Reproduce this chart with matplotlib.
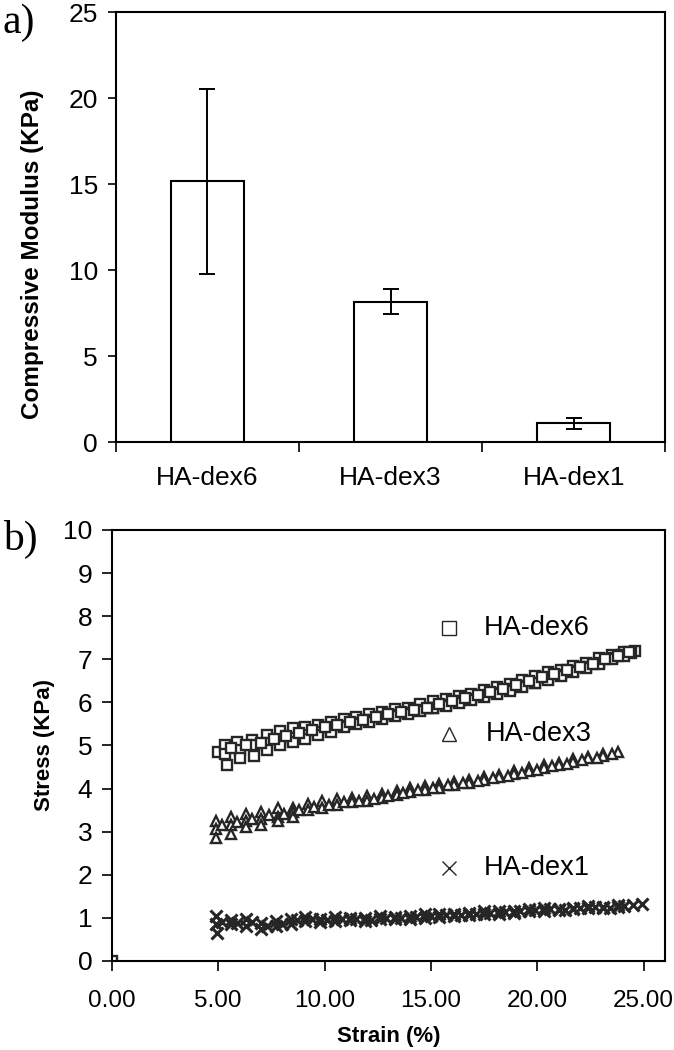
import matplotlib.pyplot as plt
import numpy as np

plt.rcParams['font.family'] = ['Liberation Sans', 'DejaVu Sans']

# ---- panel a: compressive modulus ----
groups = ['HA-dex6', 'HA-dex3', 'HA-dex1']
modulus = [15.15, 8.15, 1.08]
modulus_err = [5.37, 0.72, 0.33]

# ---- panel b: stress-strain, several replicates per gel ----
dex6_strain_a = [5.0, 5.3, 5.9, 6.6, 7.3, 7.9, 8.5, 9.1, 9.7, 10.3, 10.9, 11.5, 12.1, 12.7, 13.3, 13.9, 14.5,
                 15.1, 15.7, 16.3, 16.9, 17.5, 18.1, 18.7, 19.3, 19.9, 20.5, 21.1, 21.7, 22.3, 22.9, 23.5, 24.1, 24.6]
dex6_stress_a = [4.85, 5.02, 5.07, 5.12, 5.24, 5.33, 5.40, 5.43, 5.48, 5.55, 5.62, 5.66, 5.72, 5.77, 5.84, 5.88, 5.96,
                 6.04, 6.08, 6.14, 6.20, 6.28, 6.35, 6.42, 6.52, 6.62, 6.70, 6.76, 6.84, 6.92, 7.02, 7.10, 7.16, 7.20]
dex6_strain_b = [5.3, 6.0, 6.7, 7.3, 7.9, 8.5, 9.1, 9.7, 10.3, 10.9, 11.5, 12.1, 12.7, 13.3, 13.9, 14.5, 15.1,
                 15.7, 16.3, 16.9, 17.5, 18.1, 18.7, 19.3, 19.9, 20.5, 21.1, 21.7, 22.3, 22.9, 23.5, 24.0, 24.4]
dex6_stress_b = [4.80, 4.90, 5.00, 5.05, 5.12, 5.18, 5.25, 5.32, 5.40, 5.46, 5.52, 5.58, 5.65, 5.70, 5.76, 5.82, 5.88,
                 5.95, 6.02, 6.08, 6.15, 6.22, 6.30, 6.38, 6.46, 6.56, 6.64, 6.72, 6.82, 6.92, 7.02, 7.10, 7.14]
dex6_strain_c = [0.0, 5.4, 6.0, 6.7, 7.3, 7.9, 8.5, 9.1, 9.7, 10.3, 10.9, 11.5, 12.1, 12.7, 13.3, 13.9, 14.5, 15.1,
                 15.7, 16.3, 16.9, 17.5, 18.1, 18.7, 19.3, 19.9, 20.5, 21.1, 21.7, 22.3, 22.9, 23.5, 24.1]
dex6_stress_c = [0.0, 4.55, 4.70, 4.76, 4.90, 5.00, 5.08, 5.16, 5.24, 5.32, 5.42, 5.50, 5.55, 5.62, 5.68, 5.74, 5.80, 5.86,
                 5.92, 5.98, 6.05, 6.12, 6.20, 6.27, 6.36, 6.45, 6.53, 6.62, 6.70, 6.80, 6.90, 7.00, 7.08]
dex6_strain_d = [5.6, 6.3, 7.0, 7.6, 8.2, 8.8, 9.4, 10.0, 10.6, 11.2, 11.8, 12.4, 13.0, 13.6, 14.2, 14.8, 15.4,
                 16.0, 16.6, 17.2, 17.8, 18.4, 19.0, 19.6, 20.2, 20.8, 21.4, 22.0, 22.6, 23.2, 23.8, 24.3]
dex6_stress_d = [4.95, 5.00, 5.06, 5.15, 5.22, 5.30, 5.36, 5.42, 5.48, 5.55, 5.60, 5.66, 5.72, 5.78, 5.82, 5.88, 5.96,
                 6.02, 6.10, 6.16, 6.24, 6.30, 6.40, 6.50, 6.58, 6.66, 6.74, 6.82, 6.90, 7.00, 7.08, 7.16]

dex3_strain_a = [4.9, 5.6, 6.3, 7.0, 7.8, 8.5, 9.2, 9.9, 10.6, 11.3, 12.0, 12.7, 13.4, 14.0, 14.7, 15.4, 16.1,
                 16.8, 17.5, 18.2, 18.9, 19.6, 20.3, 21.0, 21.7, 22.4, 23.1, 23.8]
dex3_stress_a = [3.25, 3.35, 3.40, 3.45, 3.55, 3.55, 3.65, 3.72, 3.75, 3.78, 3.82, 3.88, 3.95, 4.02, 4.05, 4.10, 4.15,
                 4.20, 4.27, 4.32, 4.40, 4.47, 4.55, 4.60, 4.68, 4.74, 4.80, 4.85]
dex3_strain_b = [4.9, 5.6, 6.3, 7.0, 7.8, 8.5, 9.2, 9.9, 10.6, 11.3, 12.0, 12.7, 13.4, 14.0, 14.7, 15.4, 16.1,
                 16.8, 17.5, 18.2, 18.9, 19.6, 20.3, 21.0, 21.7, 22.4, 23.1]
dex3_stress_b = [3.05, 3.15, 3.25, 3.30, 3.35, 3.45, 3.50, 3.55, 3.62, 3.68, 3.72, 3.78, 3.85, 3.92, 3.97, 4.02, 4.08,
                 4.14, 4.20, 4.26, 4.33, 4.40, 4.48, 4.55, 4.62, 4.70, 4.76]
dex3_strain_c = [4.9, 5.6, 6.3, 7.0, 7.8, 8.5]
dex3_stress_c = [2.85, 2.95, 3.10, 3.15, 3.25, 3.35]
dex3_strain_d = [5.2, 5.9, 6.6, 7.4, 8.1, 8.8, 9.5, 10.2, 10.9, 11.6, 12.3, 13.0, 13.7, 14.4, 15.1, 15.8, 16.5,
                 17.2, 17.9, 18.6, 19.3, 20.0, 20.7, 21.4, 22.1, 22.8, 23.5]
dex3_stress_d = [3.15, 3.22, 3.30, 3.38, 3.42, 3.50, 3.58, 3.62, 3.68, 3.72, 3.76, 3.82, 3.90, 3.96, 4.02, 4.08, 4.12,
                 4.18, 4.24, 4.30, 4.36, 4.43, 4.52, 4.58, 4.66, 4.72, 4.80]

dex1_strain_a = [4.9, 5.6, 6.3, 7.0, 7.7, 8.4, 9.1, 9.8, 10.5, 11.2, 11.9, 12.6, 13.3, 14.0, 14.7, 15.4, 16.1,
                 16.8, 17.5, 18.2, 18.9, 19.6, 20.3, 21.0, 21.7, 22.4, 23.1, 23.8, 24.5, 24.9]
dex1_stress_a = [1.05, 0.95, 0.97, 0.88, 0.92, 0.98, 1.02, 0.98, 1.02, 1.00, 1.00, 1.05, 1.02, 1.05, 1.10, 1.10, 1.10,
                 1.12, 1.15, 1.15, 1.17, 1.20, 1.22, 1.20, 1.24, 1.27, 1.25, 1.30, 1.30, 1.32]
dex1_strain_b = [4.9, 4.95, 5.6, 6.3, 7.0, 7.7, 8.4, 9.1, 9.8, 10.5, 11.2, 11.9, 12.6, 13.3, 14.0, 14.7, 15.4,
                 16.1, 16.8, 17.5, 18.2, 18.9, 19.6, 20.3, 21.0, 21.7, 22.4, 23.1, 23.8]
dex1_stress_b = [0.85, 0.65, 0.85, 0.82, 0.75, 0.80, 0.85, 0.92, 0.90, 0.93, 0.95, 0.92, 0.97, 0.97, 0.98, 1.00, 1.03,
                 1.05, 1.07, 1.08, 1.10, 1.12, 1.15, 1.17, 1.18, 1.20, 1.22, 1.22, 1.25]
dex1_strain_c = [5.2, 5.9, 6.6, 7.3, 8.0, 8.7, 9.4, 10.1, 10.8, 11.5, 12.2, 12.9, 13.6, 14.3, 15.0, 15.7, 16.4,
                 17.1, 17.8, 18.5, 19.2, 19.9, 20.6, 21.3, 22.0, 22.7, 23.4, 24.1]
dex1_stress_c = [0.90, 0.88, 0.90, 0.82, 0.86, 0.95, 0.97, 0.95, 0.98, 0.98, 0.96, 1.00, 1.00, 1.02, 1.05, 1.06, 1.07,
                 1.10, 1.12, 1.13, 1.15, 1.18, 1.20, 1.19, 1.22, 1.25, 1.24, 1.28]

fig = plt.figure(figsize=(6.74, 10.5), dpi=100)

# panel a
ax1 = fig.add_axes([0.172, 0.579, 0.815, 0.4095])
xpos = np.arange(len(groups))
ax1.bar(xpos, modulus, width=0.4, color='white', edgecolor='black', linewidth=1.5)
ax1.errorbar(xpos, modulus, yerr=modulus_err, fmt='none', ecolor='black', elinewidth=1.4,
             capsize=6, capthick=1.4)
ax1.set_xlim(-0.5, 2.5)
ax1.set_ylim(0, 25)
ax1.set_yticks(range(0, 26, 5))
ax1.set_xticks(xpos)
ax1.set_xticklabels(groups)
ax1.set_xticks([-0.5, 0.5, 1.5, 2.5], minor=True)
ax1.tick_params(axis='x', which='major', length=0, labelsize=19, pad=17)
ax1.tick_params(axis='x', which='minor', length=7, width=1.2, direction='out')
ax1.tick_params(axis='y', length=6, width=1.2, direction='out', labelsize=19, pad=7)
ax1.set_ylabel('Compressive Modulus (KPa)', fontsize=17.5, fontweight='bold')
ax1.yaxis.set_label_coords(-0.131, 0.437)
for s in ax1.spines.values():
    s.set_linewidth(1.5)
fig.text(0.004, 0.997, 'a)', fontsize=30, family='Liberation Serif', va='top', ha='left')

# panel b
ax2 = fig.add_axes([0.166, 0.0848, 0.8205, 0.4105])
mk = dict(linestyle='none', markerfacecolor='white', markeredgecolor='#262626')
for sx, sy in [(dex6_strain_a, dex6_stress_a), (dex6_strain_b, dex6_stress_b),
               (dex6_strain_c, dex6_stress_c), (dex6_strain_d, dex6_stress_d)]:
    ax2.plot(sx, sy, marker='s', markersize=6.5, markeredgewidth=1.7, **mk)
for sx, sy in [(dex3_strain_a, dex3_stress_a), (dex3_strain_b, dex3_stress_b),
               (dex3_strain_c, dex3_stress_c), (dex3_strain_d, dex3_stress_d)]:
    ax2.plot(sx, sy, marker='^', markersize=7.5, markeredgewidth=1.7, **mk)
for sx, sy in [(dex1_strain_a, dex1_stress_a), (dex1_strain_b, dex1_stress_b),
               (dex1_strain_c, dex1_stress_c)]:
    ax2.plot(sx, sy, marker='x', markersize=9, markeredgewidth=2.2, linestyle='none', color='#262626')

# in-plot labels
ax2.plot([15.85], [7.73], marker='s', markersize=10.5, markeredgewidth=1.0, **mk)
ax2.text(17.5, 7.73, 'HA-dex6', fontsize=19.5, va='center')
ax2.plot([15.85], [5.26], marker='^', markersize=10.5, markeredgewidth=1.0, **mk)
ax2.text(17.6, 5.26, 'HA-dex3', fontsize=19.5, va='center')
ax2.plot([15.85], [2.15], marker='x', markersize=10, markeredgewidth=1.0, linestyle='none', color='#262626')
ax2.text(17.5, 2.15, 'HA-dex1', fontsize=19.5, va='center')

ax2.set_xlim(0, 26)
ax2.set_ylim(0, 10)
ax2.set_yticks(range(0, 11))
ax2.set_xticks(range(0, 26, 5))
ax2.set_xticklabels(['%.2f' % v for v in range(0, 26, 5)])
ax2.tick_params(axis='y', length=7, width=1.2, direction='out', labelsize=19, pad=7)
ax2.tick_params(axis='x', length=7, width=1.2, direction='out', labelsize=17.5, pad=14)
ax2.set_xlabel('Strain (%)', fontsize=16, fontweight='bold', labelpad=10)
ax2.set_ylabel('Stress (KPa)', fontsize=16, fontweight='bold', labelpad=6)
for s in ax2.spines.values():
    s.set_linewidth(1.5)
fig.text(0.004, 0.505, 'b)', fontsize=30, family='Liberation Serif', va='top', ha='left')

fig.savefig('out.png', dpi=100)
